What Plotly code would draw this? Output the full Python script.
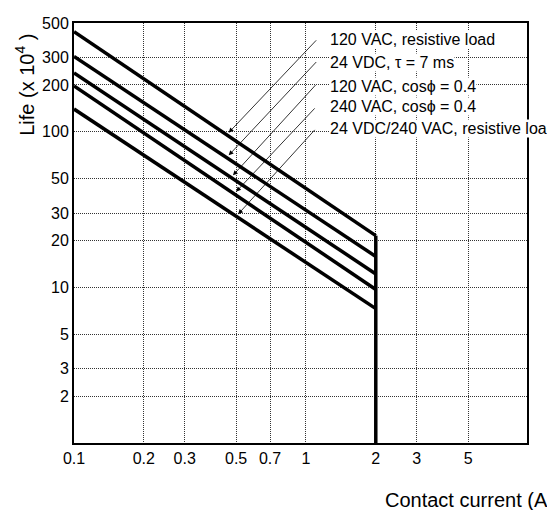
"""Relay contact life vs contact current (log-log)."""

import math

import plotly.graph_objects as go

# Curve data: life (x 10^4 operations) at 0.1 A and at 2 A
series_names = [
    "120 VAC, resistive load",
    "24 VDC, \u03c4 = 7 ms",
    "120 VAC, cos\u03d5 = 0.4",
    "240 VAC, cos\u03d5 = 0.4",
    "24 VDC/240 VAC, resistive load",
]
current_points = [0.1, 2]
life_at_start = [440, 305, 239, 197, 140]
life_at_end = [21.5, 15.8, 12.2, 9.7, 7.3]

# Vertical cut-off at the rated current
cutoff_current = [2, 2]
cutoff_life = [21.5, 1]

x_ticks = [0.1, 0.2, 0.3, 0.5, 0.7, 1, 2, 3, 5]
y_ticks = [2, 3, 5, 10, 20, 30, 50, 100, 200, 300, 500]

# Where each leader arrow touches its curve
arrow_current = [0.455, 0.455, 0.475, 0.49, 0.5]
arrow_life = [95.6, 68.3, 50.8, 39.9, 28.6]

FONT = "Liberation Sans, Arial, sans-serif"

fig = go.Figure()

for name, y0, y1 in zip(series_names, life_at_start, life_at_end):
    fig.add_trace(
        go.Scatter(
            x=current_points,
            y=[y0, y1],
            mode="lines",
            name=name,
            line={"color": "black", "width": 3.5},
        )
    )

fig.add_trace(
    go.Scatter(
        x=cutoff_current,
        y=cutoff_life,
        mode="lines",
        line={"color": "black", "width": 3.5},
    )
)

# Labels with leader arrows
label_y = [0.960, 0.907, 0.850, 0.801, 0.750]
tail_offsets = [(91, -96), (91, -97), (86, -94), (82, -87), (80, -88)]
for name, ly, hx, hy, (ax, ay) in zip(
    series_names, label_y, arrow_current, arrow_life, tail_offsets
):
    fig.add_annotation(
        x=0.563,
        y=ly,
        xref="paper",
        yref="paper",
        text=name,
        showarrow=False,
        xanchor="left",
        yanchor="middle",
        bgcolor="white",
        borderpad=0,
        font={"size": 16, "color": "black", "family": FONT},
    )
    fig.add_annotation(
        x=math.log10(hx),
        y=math.log10(hy),
        xref="x",
        yref="y",
        text="",
        showarrow=True,
        ax=ax,
        ay=ay,
        arrowhead=2,
        arrowsize=1.2,
        arrowwidth=0.8,
        arrowcolor="black",
        standoff=3,
    )

# Axis titles
fig.add_annotation(
    x=-0.108,
    y=0.853,
    xref="paper",
    yref="paper",
    text="Life (x 10<sup>4</sup> )",
    textangle=-90,
    showarrow=False,
    xanchor="center",
    yanchor="middle",
    font={"size": 20, "color": "black", "family": FONT},
)
fig.add_annotation(
    x=0.682,
    y=-0.1355,
    xref="paper",
    yref="paper",
    text="Contact current (A)",
    showarrow=False,
    xanchor="left",
    yanchor="middle",
    font={"size": 20, "color": "black", "family": FONT},
)

grid_style = {
    "showgrid": True,
    "gridcolor": "#333333",
    "gridwidth": 1,
    "griddash": "1px,1px",
    "showline": True,
    "linecolor": "black",
    "linewidth": 2,
    "mirror": True,
    "ticks": "",
    "tickfont": {"size": 16, "color": "black", "family": FONT},
}

fig.update_xaxes(
    type="log",
    range=[-1, 0.953],
    tickvals=x_ticks,
    ticktext=[str(v) for v in x_ticks],
    **grid_style,
)
fig.update_yaxes(
    type="log",
    range=[0, math.log10(500)],
    tickvals=y_ticks,
    ticktext=[str(v) for v in y_ticks],
    **grid_style,
)

# the page body adds an 8px offset, so margins are shifted to compensate
fig.update_layout(
    width=555,
    height=510,
    margin={"l": 66, "r": 36, "t": 7, "b": 75},
    paper_bgcolor="white",
    plot_bgcolor="white",
    showlegend=False,
    font={"family": FONT, "color": "black"},
)

fig.write_html("out.html")
